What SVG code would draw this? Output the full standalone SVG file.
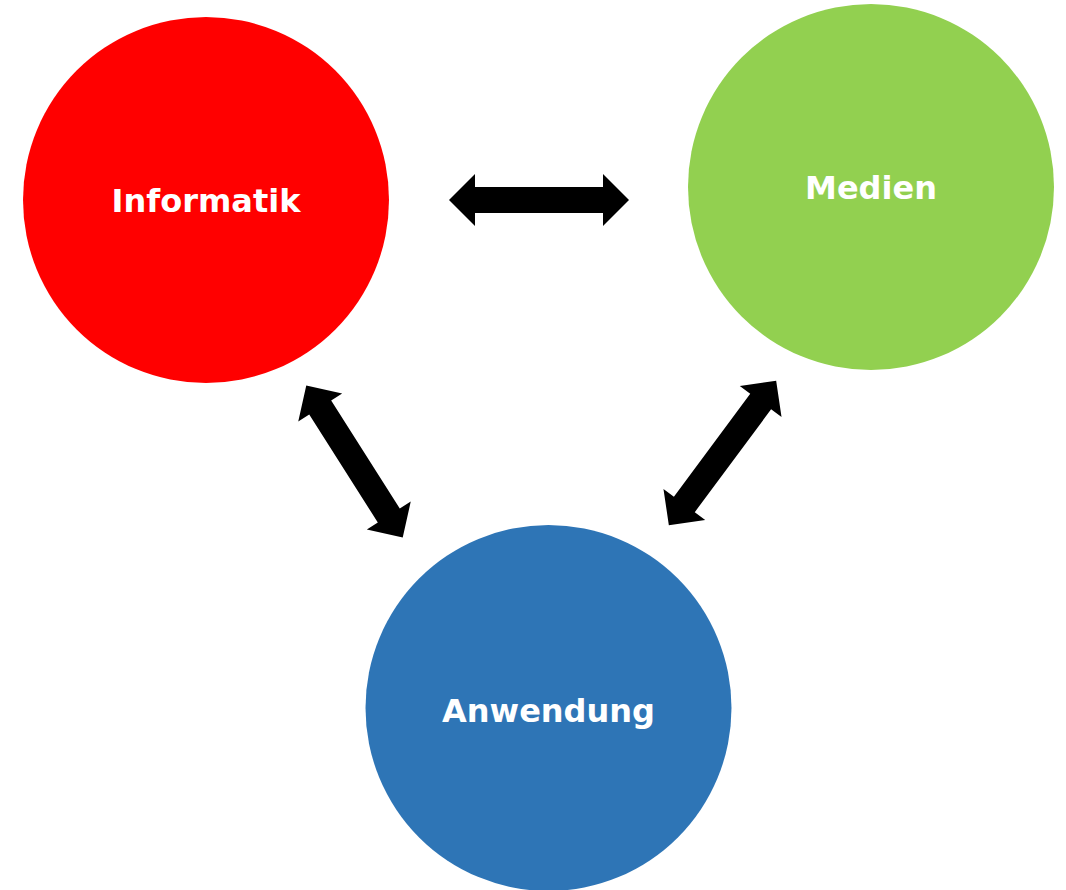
<svg xmlns="http://www.w3.org/2000/svg" width="1066" height="890" viewBox="0 0 1066 890">
<style>
.lbl{font-family:"DejaVu Sans",Verdana,sans-serif;font-weight:bold;font-size:32px;fill:#FFFFFF;text-anchor:middle}
.arr{fill:#000000}
</style>
<defs>
<path id="dbl" d="M-90,0 L-64,-26 L-64,-13 L64,-13 L64,-26 L90,0 L64,26 L64,13 L-64,13 L-64,26 Z"/>
</defs>
<rect width="1066" height="890" fill="#FFFFFF"/>
<g id="informatik">
<circle cx="206" cy="200" r="183" fill="#FF0000"/>
<text class="lbl" x="206" y="212">Informatik</text>
</g>
<g id="medien">
<circle cx="871" cy="187" r="183" fill="#92D050"/>
<text class="lbl" x="871" y="199">Medien</text>
</g>
<g id="anwendung">
<circle cx="548.5" cy="708" r="183" fill="#2E75B6"/>
<text class="lbl" x="548.5" y="722">Anwendung</text>
</g>
<g id="connectors" class="arr">
<use href="#dbl" transform="translate(539,200)"/>
<use href="#dbl" transform="translate(354.5,461.5) rotate(57.6)"/>
<use href="#dbl" transform="translate(722.5,453) rotate(-53.4)"/>
</g>
</svg>
